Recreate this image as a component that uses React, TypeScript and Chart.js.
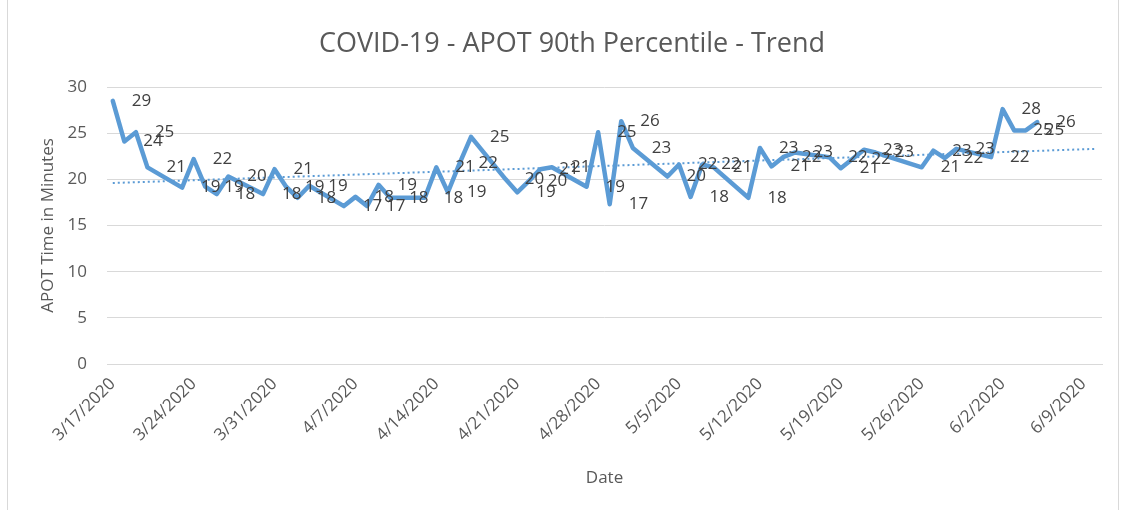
import React, { useEffect, useRef } from 'react';
import { Chart, registerables } from 'chart.js';

Chart.register(...registerables);

const chartTitle = 'COVID-19 - APOT 90th Percentile - Trend';
const xTitle = 'Date';
const yTitle = 'APOT Time in Minutes';

const dates = [
  '3/17/2020', '3/18/2020', '3/19/2020', '3/20/2020',
  '3/23/2020', '3/24/2020', '3/25/2020', '3/26/2020', '3/27/2020',
  '3/30/2020', '3/31/2020', '4/1/2020', '4/2/2020', '4/3/2020',
  '4/6/2020', '4/7/2020', '4/8/2020', '4/9/2020', '4/10/2020',
  '4/13/2020', '4/14/2020', '4/15/2020', '4/16/2020', '4/17/2020',
  '4/20/2020', '4/21/2020', '4/22/2020', '4/23/2020', '4/24/2020',
  '4/27/2020', '4/28/2020', '4/29/2020', '4/30/2020', '5/1/2020',
  '5/4/2020', '5/5/2020', '5/6/2020', '5/7/2020', '5/8/2020',
  '5/11/2020', '5/12/2020', '5/13/2020', '5/14/2020', '5/15/2020',
  '5/18/2020', '5/19/2020', '5/20/2020', '5/21/2020', '5/22/2020',
  '5/26/2020', '5/27/2020', '5/28/2020', '5/29/2020',
  '6/1/2020', '6/2/2020', '6/3/2020', '6/4/2020', '6/5/2020',
];

const values = [
  28.5, 24.1, 25.1, 21.3,
  19.1, 22.2, 19.2, 18.4, 20.3,
  18.4, 21.1, 19.2, 18.0, 19.3,
  17.1, 18.1, 17.1, 19.4, 18.0,
  18.0, 21.3, 18.6, 21.7, 24.6,
  20.0, 18.6, 19.8, 21.1, 21.3,
  19.2, 25.1, 17.3, 26.3, 23.4,
  20.3, 21.6, 18.1, 21.6, 21.3,
  18.0, 23.4, 21.4, 22.4, 22.9,
  22.4, 21.2, 22.2, 23.2, 22.9,
  21.3, 23.1, 22.3, 23.3,
  22.4, 27.6, 25.3, 25.3, 26.2,
];

const trendDates = ['3/17/2020', '6/10/2020'];
const trendValues = [19.6, 23.3];

const xTickLabels = [
  '3/17/2020', '3/24/2020', '3/31/2020', '4/7/2020', '4/14/2020', '4/21/2020', '4/28/2020',
  '5/5/2020', '5/12/2020', '5/19/2020', '5/26/2020', '6/2/2020', '6/9/2020',
];

const yTickValues = [0, 5, 10, 15, 20, 25, 30];

const ORIGIN = Date.UTC(2020, 2, 17);
function dayOf(s: string): number {
  const [m, d, y] = s.split('/').map(Number);
  return Math.round((Date.UTC(y, m - 1, d) - ORIGIN) / 86400000);
}
const labelByDay = new Map<number, string>(xTickLabels.map((l) => [dayOf(l), l]));

const FONT = 'Open Sans';
const BLUE = '#5B9BD5';
const GRAY_TEXT = '#595959';
const GRID = '#d9d9d9';

const extrasPlugin = {
  id: 'extras',
  beforeDraw(chart: any) {
    const ctx = chart.ctx;
    ctx.save();
    ctx.fillStyle = '#ffffff';
    ctx.fillRect(0, 0, chart.width, chart.height);
    ctx.strokeStyle = GRID;
    ctx.lineWidth = 1;
    ctx.beginPath();
    ctx.moveTo(7.5, 0);
    ctx.lineTo(7.5, chart.height);
    ctx.moveTo(1118.5, 0);
    ctx.lineTo(1118.5, chart.height);
    ctx.stroke();
    ctx.fillStyle = GRAY_TEXT;
    ctx.font = `27px "${FONT}"`;
    ctx.textAlign = 'center';
    ctx.textBaseline = 'middle';
    ctx.fillText(chartTitle, 572, 44);
    ctx.restore();
  },
  afterDatasetsDraw(chart: any) {
    const ctx = chart.ctx;
    const meta = chart.getDatasetMeta(0);
    ctx.save();
    ctx.fillStyle = '#404040';
    ctx.font = `17px "${FONT}"`;
    ctx.textAlign = 'left';
    ctx.textBaseline = 'middle';
    meta.data.forEach((pt: any, i: number) => {
      ctx.fillText(String(Math.round(values[i])), pt.x + 19, pt.y);
    });
    ctx.restore();
  },
};

export default function App() {
  const canvasRef = useRef<HTMLCanvasElement | null>(null);

  useEffect(() => {
    if (!canvasRef.current) return;
    const chart = new Chart(canvasRef.current, {
      type: 'line',
      data: {
        datasets: [
          {
            label: 'APOT 90th Percentile',
            data: dates.map((d, i) => ({ x: dayOf(d), y: values[i] })),
            borderColor: BLUE,
            backgroundColor: BLUE,
            borderWidth: 4.5,
            pointRadius: 0,
            tension: 0,
            borderJoinStyle: 'round',
            borderCapStyle: 'round',
            order: 1,
          },
          {
            label: 'Linear (APOT 90th Percentile)',
            data: trendDates.map((d, i) => ({ x: dayOf(d), y: trendValues[i] })),
            borderColor: BLUE,
            backgroundColor: BLUE,
            borderWidth: 2,
            borderDash: [2, 3],
            pointRadius: 0,
            tension: 0,
            order: 2,
          },
        ],
      },
      options: {
        responsive: false,
        animation: false,
        layout: { padding: { left: 0, right: 25, top: 87, bottom: 0 } },
        plugins: {
          legend: { display: false },
          tooltip: { enabled: false },
          title: { display: false },
        },
        scales: {
          x: {
            type: 'linear',
            min: -0.5,
            max: 85.6,
            afterBuildTicks: (s: any) => {
              s.ticks = xTickLabels.map((l) => ({ value: dayOf(l) }));
            },
            afterFit: (s: any) => {
              s.height = 146;
            },
            grid: { display: false, drawTicks: false },
            border: { display: true, color: GRID },
            ticks: {
              autoSkip: false,
              maxRotation: 45,
              minRotation: 45,
              padding: 10,
              color: GRAY_TEXT,
              font: { family: FONT, size: 17 },
              callback: (v: any) => labelByDay.get(Number(v)) ?? '',
            },
            title: {
              display: true,
              text: xTitle,
              color: GRAY_TEXT,
              font: { family: FONT, size: 17 },
              padding: { top: 0, bottom: 22 },
            },
          },
          y: {
            min: 0,
            max: 30,
            afterBuildTicks: (s: any) => {
              s.ticks = yTickValues.map((v) => ({ value: v }));
            },
            afterFit: (s: any) => {
              s.width = 107;
            },
            grid: { color: GRID, drawTicks: false, lineWidth: 1 },
            border: { display: false },
            ticks: {
              padding: 20,
              color: GRAY_TEXT,
              font: { family: FONT, size: 17 },
            },
            title: {
              display: true,
              text: yTitle,
              color: GRAY_TEXT,
              font: { family: FONT, size: 17 },
              padding: { top: 38, bottom: 0 },
            },
          },
        },
      },
      plugins: [extrasPlugin],
    } as any);
    return () => chart.destroy();
  }, []);

  return (
    <div style={{ position: 'absolute', left: 0, top: 0, width: 1127, height: 510, background: '#fff' }}>
      <canvas ref={canvasRef} width={1127} height={510} style={{ display: 'block' }} />
    </div>
  );
}
